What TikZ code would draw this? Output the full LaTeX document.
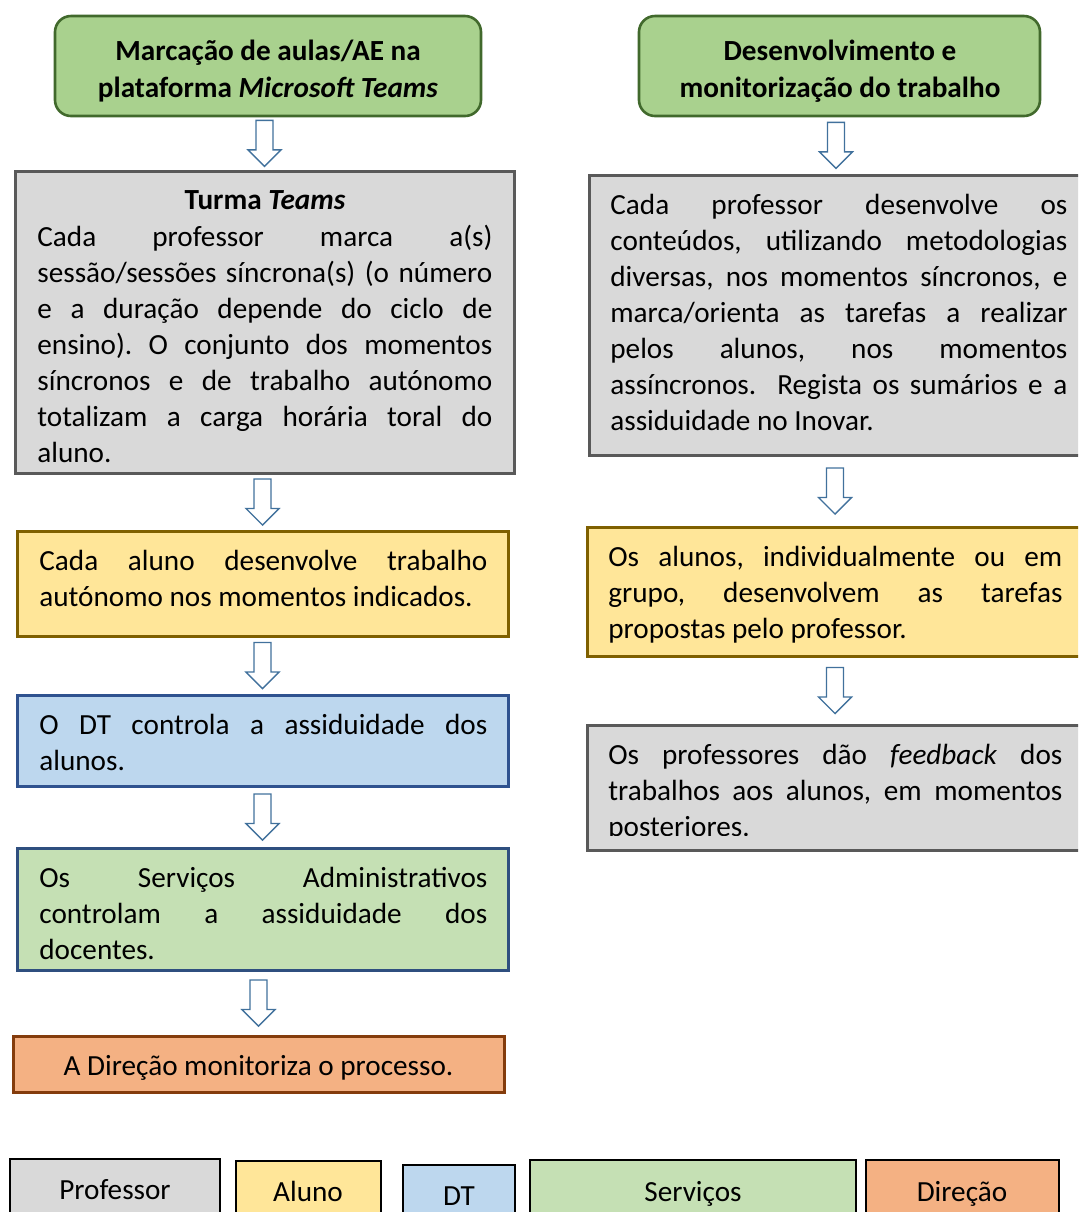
\documentclass[tikz,border=0pt]{standalone}
\usepackage{fontspec}
\setmainfont{Carlito}
\frenchspacing
\usetikzlibrary{fit,calc}
\definecolor{tgF}{HTML}{A9D18E}\definecolor{tgD}{HTML}{41692C}
\definecolor{grF}{HTML}{D9D9D9}\definecolor{grD}{HTML}{595959}
\definecolor{yeF}{HTML}{FFE699}\definecolor{yeD}{HTML}{7F6000}
\definecolor{blF}{HTML}{BDD7EE}\definecolor{blD}{HTML}{2F528F}
\definecolor{sgF}{HTML}{C5E0B4}\definecolor{sgD}{HTML}{2F4F7F}
\definecolor{orF}{HTML}{F4B183}\definecolor{orD}{HTML}{843C0C}
\definecolor{arD}{HTML}{41719C}
\newlength\lw
\newcommand\jline[1]{\hbox to \lw{#1}}
\newcommand\lline[1]{\hbox{#1}}
\newcommand\mline[1]{\hbox to \lw{\hfil#1\hfil}}
\newcommand\tblock[3][18pt]{\vtop{\lw=#2\relax\hsize=\lw\baselineskip=#1\lineskip=0pt\lineskiplimit=-50pt #3}}
\tikzset{
  box/.style={inner sep=0pt, line width=1.5pt},
  titlebox/.style={box, line width=1.3pt, rounded corners=8pt, fill=tgF, draw=tgD},
  graybox/.style={box, fill=grF, draw=grD},
  yelbox/.style={box, fill=yeF, draw=yeD},
  blubox/.style={box, fill=blF, draw=blD},
  sgbox/.style={box, fill=sgF, draw=sgD},
  orbox/.style={box, fill=orF, draw=orD},
  legbox/.style={inner sep=0pt, line width=1.2pt, draw=black},
  txt/.style={inner sep=0pt, anchor=base west, font=\fontsize{14.6}{18}\selectfont},
  ctxt/.style={txt, anchor=base},
  arrowline/.style={draw=arD, line width=0.7pt, fill=white},
  downarrow/.pic={\path[arrowline] (-8.5,-23) -- (8.5,-23) -- (8.5,6.5) -- (16.5,6.5) -- (0,23) -- (-16.5,6.5) -- (-8.5,6.5) -- cycle;}
}
\begin{document}
\begin{tikzpicture}[x=0.5pt,y=-0.5pt]
\useasboundingbox (0,0) rectangle (1078,1212);
\clip (0,0) rectangle (1078,1212);
% left column boxes
\node[titlebox, fit={(55,16) (481,116)}] (tL) {};
\node[graybox, fit={(15,171) (514,473)}] (gL) {};
\node[yelbox, fit={(17,531) (508,636)}] (yL) {};
\node[blubox, fit={(17,695) (508,786)}] (bL) {};
\node[sgbox, fit={(17,848) (508,970)}] (sL) {};
\node[orbox, fit={(13,1036) (504,1092)}] (oL) {};
% right column boxes
\node[titlebox, fit={(639,16) (1040,116)}] (tR) {};
\node[graybox, fit={(589,175) (1083,455)}] (gR) {};
\node[yelbox, fit={(587,527) (1083,656)}] (yR) {};
\node[graybox, fit={(587,725) (1083,850)}] (fR) {};
% arrows
\foreach \a/\b in {tL/gL, gL/yL, yL/bL, bL/sL, sL/oL, tR/gR, gR/yR, yR/fR}{
  \coordinate (m) at ($(\a.south)!0.5!(\b.north)$);
  \path (\b.north |- m) pic {downarrow};
}
% texts
\node[ctxt] (tLt) at (268,60) {\tblock[18.5pt]{213pt}{\bfseries\mline{Marcação de aulas/AE na}\mline{plataforma \textit{Microsoft Teams}}}};
\node[ctxt] (tRt) at (840,60) {\tblock[18.5pt]{200pt}{\bfseries\mline{Desenvolvimento e}\mline{monitorização do trabalho}}};
\node[ctxt] (gLh) at (265,209) {\bfseries Turma \textit{Teams}};
\node[txt] (gLt) at (37,246) {\tblock{227.5pt}{%
\jline{Cada professor marca a(s)}
\jline{sessão/sessões síncrona(s) (o número}
\jline{e a duração depende do ciclo de}
\jline{ensino). O conjunto dos momentos}
\jline{síncronos e de trabalho autónomo}
\jline{totalizam a carga horária toral do}
\lline{aluno.}}};
\node[txt] (yLt) at (39,570) {\tblock{224pt}{%
\jline{Cada aluno desenvolve trabalho}
\lline{autónomo nos momentos indicados.}}};
\node[txt] (bLt) at (39,734) {\tblock{224pt}{%
\jline{O DT controla a assiduidade dos}
\lline{alunos.}}};
\node[txt] (sLt) at (39,887) {\tblock{224pt}{%
\jline{Os Serviços Administrativos}
\jline{controlam a assiduidade dos}
\lline{docentes.}}};
\node[ctxt] (oLt) at (258.5,1075) {A Direção monitoriza o processo.};
\node[txt] (gRt) at (610,214) {\tblock{228.5pt}{%
\jline{Cada professor desenvolve os}
\jline{conteúdos, utilizando metodologias}
\jline{diversas, nos momentos síncronos, e}
\jline{marca/orienta as tarefas a realizar}
\jline{pelos alunos, nos momentos}
\jline{assíncronos.\ \ Regista os sumários e a}
\lline{assiduidade no Inovar.}}};
\node[txt] (yRt) at (608,566) {\tblock{227pt}{%
\jline{Os alunos, individualmente ou em}
\jline{grupo, desenvolvem as tarefas}
\lline{propostas pelo professor.}}};
\begin{scope}
\clip (587,725) rectangle (1083,835);
\node[txt] (fRt) at (608,764) {\tblock{227pt}{%
\jline{Os professores dão \textit{feedback} dos}
\jline{trabalhos aos alunos, em momentos}
\lline{posteriores.}}};
\end{scope}
% legend
\node[legbox, fill=grF, fit={(10,1159) (220,1240)}] (lP) {};
\node[legbox, fill=yeF, fit={(236,1161) (381,1240)}] (lA) {};
\node[legbox, fill=blF, fit={(403,1165) (515,1240)}] (lD) {};
\node[legbox, fill=sgF, fit={(530,1160) (856,1240)}] (lS) {};
\node[legbox, fill=orF, fit={(866,1160) (1059,1240)}] (lR) {};
\node[ctxt] (lPt) at (115,1199) {Professor};
\node[ctxt] (lAt) at (308,1201) {Aluno};
\node[ctxt] (lDt) at (459,1205) {DT};
\node[ctxt] (lSt) at (693,1201) {Serviços};
\node[ctxt] (lRt) at (962,1201) {Direção};
\end{tikzpicture}
\end{document}
